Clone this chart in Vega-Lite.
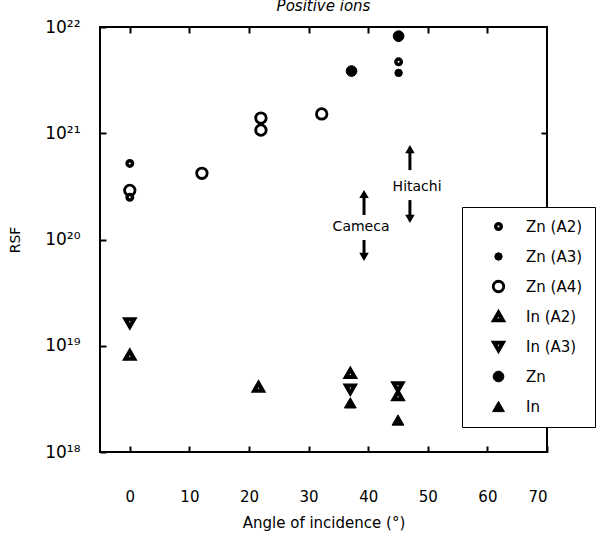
{
  "$schema": "https://vega.github.io/schema/vega-lite/v6.json",
  "autosize": {"type": "none"},
  "width": 447,
  "height": 425,
  "padding": {"left": 100, "top": 27, "right": 61, "bottom": 94},
  "background": "white",
  "config": {
    "font": "DejaVu Sans",
    "view": {"stroke": "black", "strokeWidth": 2},
    "axis": {"domain": false, "grid": false, "tickColor": "black", "tickWidth": 2, "labelColor": "black", "titleColor": "black", "labelFont": "DejaVu Sans", "titleFont": "DejaVu Sans", "titleFontWeight": "normal"}
  },
  "title": {"text": "Positive ions", "fontStyle": "italic", "fontWeight": "normal", "fontSize": 15, "font": "DejaVu Sans", "offset": 4, "color": "black"},
  "datasets": {
    "pts": [
      {"angle": 0, "rsf": 5.2e20, "series": "Zn (A2)"},
      {"angle": 0, "rsf": 2.9e20, "series": "Zn (A4)"},
      {"angle": 0, "rsf": 2.5e20, "series": "Zn (A2)"},
      {"angle": 12.1, "rsf": 4.2e20, "series": "Zn (A4)"},
      {"angle": 22, "rsf": 1.39e21, "series": "Zn (A4)"},
      {"angle": 22, "rsf": 1.07e21, "series": "Zn (A4)"},
      {"angle": 32.2, "rsf": 1.52e21, "series": "Zn (A4)"},
      {"angle": 37.2, "rsf": 3.85e21, "series": "Zn"},
      {"angle": 45.1, "rsf": 8.2e21, "series": "Zn"},
      {"angle": 45.1, "rsf": 4.7e21, "series": "Zn (A2)"},
      {"angle": 45.1, "rsf": 3.7e21, "series": "Zn (A3)"},
      {"angle": 0, "rsf": 1.64e19, "series": "In (A3)"},
      {"angle": 0, "rsf": 8.2e18, "series": "In (A2)"},
      {"angle": 21.6, "rsf": 4.1e18, "series": "In (A2)"},
      {"angle": 37, "rsf": 5.5e18, "series": "In (A2)"},
      {"angle": 37, "rsf": 3.9e18, "series": "In (A3)"},
      {"angle": 37, "rsf": 2.9e18, "series": "In"},
      {"angle": 45, "rsf": 4.1e18, "series": "In (A3)"},
      {"angle": 45, "rsf": 3.4e18, "series": "In (A2)"},
      {"angle": 45, "rsf": 2.0e18, "series": "In"}
    ],
    "arrows": [
      {"x": 47.0, "tail": 4.5e20, "head": 7.1e20, "dir": "up"},
      {"x": 47.0, "tail": 2.35e20, "head": 1.56e20, "dir": "down"},
      {"x": 39.3, "tail": 1.7e20, "head": 2.68e20, "dir": "up"},
      {"x": 39.3, "tail": 9.9e19, "head": 6.85e19, "dir": "down"}
    ],
    "labels": [
      {"x": 38.8, "y": 1.31e20, "text": "Cameca"},
      {"x": 48.2, "y": 3.1e20, "text": "Hitachi"}
    ]
  },
  "layer": [
    {
      "data": {"name": "pts"},
      "mark": {"type": "point", "stroke": "black", "opacity": 1},
      "encoding": {
        "x": {"field": "angle", "type": "quantitative", "scale": {"domain": [-5, 70], "nice": false, "zero": false},
              "axis": {"orient": "bottom", "values": [0, 10, 20, 30, 40, 50, 60, 70], "tickSize": -6, "labelPadding": 43, "labelFontSize": 15, "title": "Angle of incidence (°)", "titleFontSize": 15, "titlePadding": 11}},
        "y": {"field": "rsf", "type": "quantitative", "scale": {"type": "log", "domain": [1e18, 1e22], "nice": false},
              "axis": {"orient": "left", "values": [1e18, 1e19, 1e20, 1e21, 1e22], "tickSize": -6, "labelPadding": 26, "labelFontSize": 17,
                       "labelExpr": "['10¹⁸','10¹⁹','10²⁰','10²¹','10²²'][round(log(datum.value)/LN10)-18]",
                       "title": "RSF", "titleFontSize": 14, "titlePadding": 22}},
        "shape": {"field": "series", "type": "nominal",
                  "scale": {"type": "ordinal", "domain": ["Zn (A2)", "Zn (A3)", "Zn (A4)", "In (A2)", "In (A3)", "Zn", "In"],
                            "range": ["circle", "circle", "circle", "triangle-up", "triangle-down", "circle", "triangle-up"]},
                  "legend": {"title": null, "orient": "none", "legendX": 362, "legendY": 180, "strokeColor": "black", "fillColor": "white", "padding": 12, "symbolOffset": 17, "labelOffset": 20, "labelFontSize": 15, "labelFont": "DejaVu Sans", "labelColor": "black", "rowPadding": 5, "gridAlign": "all", "symbolStrokeColor": "black", "labelLimit": 300,
                             "labelExpr": "datum.label + '\u2003\u2003'"}},
        "fill": {"field": "series", "type": "nominal",
                 "scale": {"type": "ordinal", "domain": ["Zn (A2)", "Zn (A3)", "Zn (A4)", "In (A2)", "In (A3)", "Zn", "In"],
                           "range": ["white", "black", "white", "white", "white", "black", "black"]}},
        "size": {"field": "series", "type": "nominal",
                 "scale": {"type": "ordinal", "domain": ["Zn (A2)", "Zn (A3)", "Zn (A4)", "In (A2)", "In (A3)", "Zn", "In"],
                           "range": [30, 55, 110, 75, 75, 115, 140]}},
        "strokeWidth": {"field": "series", "type": "nominal",
                        "scale": {"type": "ordinal", "domain": ["Zn (A2)", "Zn (A3)", "Zn (A4)", "In (A2)", "In (A3)", "Zn", "In"],
                                  "range": [3.5, 1, 2.8, 4, 4, 1, 1]}}
      }
    },
    {
      "data": {"name": "pts"},
      "mark": {"type": "point", "opacity": 0},
      "encoding": {
        "x": {"field": "angle", "type": "quantitative", "axis": {"orient": "top", "values": [0, 10, 20, 30, 40, 50, 60], "tickSize": -6, "labels": false, "title": null}},
        "y": {"field": "rsf", "type": "quantitative", "axis": {"orient": "right", "values": [1e19, 1e20, 1e21], "tickSize": -6, "labels": false, "title": null}}
      }
    },
    {
      "data": {"name": "arrows"},
      "mark": {"type": "rule", "color": "black", "strokeWidth": 3},
      "encoding": {
        "x": {"field": "x", "type": "quantitative", "axis": null},
        "y": {"field": "tail", "type": "quantitative", "axis": null},
        "y2": {"field": "head"}
      }
    },
    {
      "data": {"name": "arrows"},
      "transform": [{"filter": "datum.dir == 'up'"}],
      "mark": {"type": "point", "shape": "triangle-up", "filled": true, "color": "black", "size": 90, "opacity": 1},
      "encoding": {
        "x": {"field": "x", "type": "quantitative", "axis": null},
        "y": {"field": "head", "type": "quantitative", "axis": null}
      }
    },
    {
      "data": {"name": "arrows"},
      "transform": [{"filter": "datum.dir == 'down'"}],
      "mark": {"type": "point", "shape": "triangle-down", "filled": true, "color": "black", "size": 90, "opacity": 1},
      "encoding": {
        "x": {"field": "x", "type": "quantitative", "axis": null},
        "y": {"field": "head", "type": "quantitative", "axis": null}
      }
    },
    {
      "data": {"name": "labels"},
      "mark": {"type": "text", "fontSize": 14, "font": "DejaVu Sans", "color": "black"},
      "encoding": {
        "x": {"field": "x", "type": "quantitative", "axis": null},
        "y": {"field": "y", "type": "quantitative", "axis": null},
        "text": {"field": "text"}
      }
    }
  ],
  "resolve": {"axis": {"x": "independent", "y": "independent"}}
}
